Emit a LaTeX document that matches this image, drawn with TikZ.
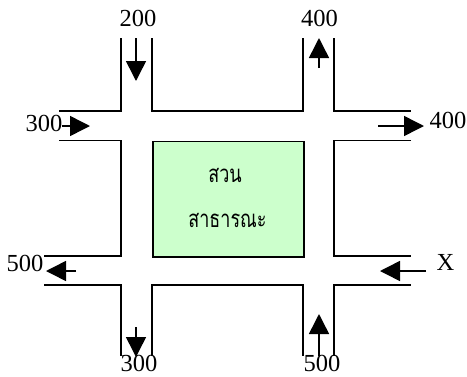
\documentclass[tikz,border=0pt]{standalone}
\usepackage{fontspec}
\setmainfont{Liberation Serif}
\newfontfamily\thaifont[Script=Thai,FakeStretch=0.75]{Loma}
\usetikzlibrary{arrows.meta}
\begin{document}
\begin{tikzpicture}[x=1pt,y=-1pt,
  road/.style={line width=1.8pt,line join=miter},
  flow/.style={line width=1.5pt,-{Triangle[length=20pt,width=20pt]}},
  num/.style={inner sep=0pt,font=\fontsize{24.5}{28}\selectfont},
  thai/.style={inner sep=0pt,font=\thaifont\fontsize{24}{28}\selectfont}]
\useasboundingbox (0,0) rectangle (467,376);
% park
\node[draw,line width=1.8pt,fill={rgb,255:red,204;green,255;blue,204},minimum width=151pt,minimum height=115.5pt,inner sep=0pt,anchor=north west] (park) at (152,140.5) {};
\node[thai] (t1) at (225,175) {สวน};
\node[thai] (t2) at (227.5,220) {สาธารณะ};
% roads
\draw[road] (121,38)--(121,111)--(59,111);
\draw[road] (152,38)--(152,111)--(303,111)--(303,38);
\draw[road] (334,38)--(334,111)--(411,111);
\draw[road] (59,140.5)--(121,140.5)--(121,256)--(44,256);
\draw[road] (411,140.5)--(334,140.5)--(334,256)--(411,256);
\draw[road] (44,285)--(121,285)--(121,356);
\draw[road] (152,356)--(152,285)--(303,285)--(303,356);
\draw[road] (334,356)--(334,285)--(411,285);
% arrow end points
\coordinate (a1s) at (136,38);  \coordinate (a1e) at (136,81);
\coordinate (a2s) at (62,126);  \coordinate (a2e) at (90,126);
\coordinate (a3s) at (319,68);  \coordinate (a3e) at (319,38);
\coordinate (a4s) at (378,126); \coordinate (a4e) at (424,126);
\coordinate (a5s) at (76,271);  \coordinate (a5e) at (46,271);
\coordinate (a6s) at (426,271); \coordinate (a6e) at (380,271);
\coordinate (a7s) at (136,327); \coordinate (a7e) at (136,357);
\coordinate (a8s) at (319,356); \coordinate (a8e) at (319,314);
\draw[flow] (a1s)--(a1e);
\draw[flow] (a2s)--(a2e);
\draw[flow] (a3s)--(a3e);
\draw[flow] (a4s)--(a4e);
\draw[flow] (a5s)--(a5e);
\draw[flow] (a6s)--(a6e);
\draw[flow] (a7s)--(a7e);
\draw[flow] (a8s)--(a8e);
% labels
\node[num] (l1) at (138,18.5) {200};
\node[num] (l2) at (319.5,18.5) {400};
\node[num] (l3) at (44,123) {300};
\node[num] (l4) at (448,120) {400};
\node[num] (l5) at (25,263) {500};
\node[num] (l6) at (445.5,262.5) {X};
\node[num] (l7) at (139,363) {300};
\node[num] (l8) at (322,363) {500};
\end{tikzpicture}
\end{document}
